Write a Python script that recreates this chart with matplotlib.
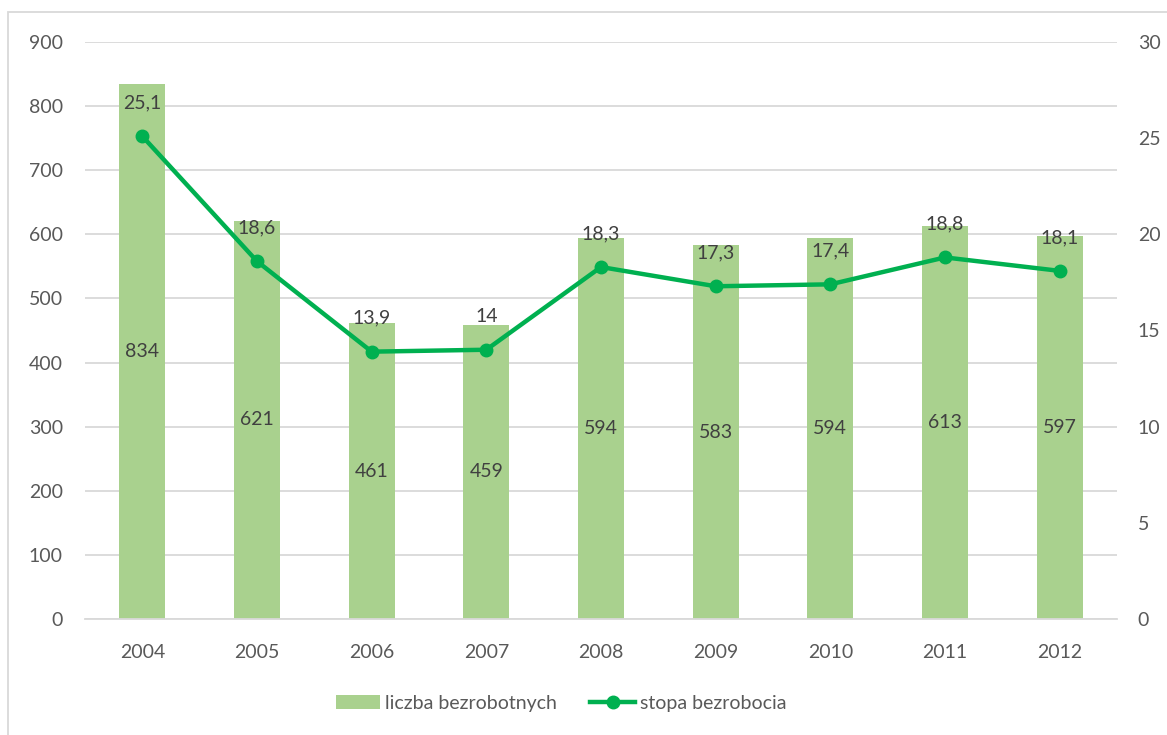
import matplotlib
matplotlib.use("Agg")
import matplotlib.pyplot as plt
from matplotlib.patches import Rectangle
from matplotlib.lines import Line2D
from matplotlib.patches import Patch

years = ["2004", "2005", "2006", "2007", "2008", "2009", "2010", "2011", "2012"]
unemployed = [834, 621, 461, 459, 594, 583, 594, 613, 597]
rate = [25.1, 18.6, 13.9, 14.0, 18.3, 17.3, 17.4, 18.8, 18.1]
rate_labels = ["25,1", "18,6", "13,9", "14", "18,3", "17,3", "17,4", "18,8", "18,1"]
left_ticks = [0, 100, 200, 300, 400, 500, 600, 700, 800, 900]
right_ticks = [0, 5, 10, 15, 20, 25, 30]

plt.rcParams['font.family'] = ['Lato', 'DejaVu Sans']

BAR = "#A9D18E"
LINE = "#00B050"
TXT = "#595959"
LBL = "#404040"
GRID = "#D9D9D9"
FS = 14

fig = plt.figure(figsize=(11.67, 7.35), dpi=100)
ax = fig.add_axes([85/1167, 1-619/735, (1117-85)/1167, (619-42)/735])
ax2 = ax.twinx()

x = list(range(len(years)))
ax.bar(x, unemployed, width=0.4, color=BAR, zorder=2)
ax.set_xlim(-0.5, len(years) - 0.5)
ax.set_ylim(0, 900)
ax.set_yticks(left_ticks)
ax.set_xticks(x)
ax.set_xticklabels(years)
ax.yaxis.grid(True, color=GRID, linewidth=1.3, zorder=0)
ax.set_axisbelow(True)
for s in ["top", "right", "left"]:
    ax.spines[s].set_visible(False)
ax.spines["bottom"].set_color(GRID)
ax.spines["bottom"].set_linewidth(1.3)
ax.tick_params(axis="both", length=0, labelsize=FS, labelcolor=TXT)
ax.tick_params(axis="y", pad=16)
ax.tick_params(axis="x", pad=18)

for xi, v in zip(x, unemployed):
    ax.text(xi, v / 2, str(v), ha="center", va="center", fontsize=FS, color=LBL, zorder=3)

ax2.plot(x, rate, color=LINE, linewidth=3.2, marker="o", markersize=9, zorder=4)
ax2.set_ylim(0, 30)
ax2.set_yticks(right_ticks)
for s in ["top", "right", "left", "bottom"]:
    ax2.spines[s].set_visible(False)
ax2.tick_params(axis="y", length=0, labelsize=FS, labelcolor=TXT, pad=15)
for xi, v, lab in zip(x, rate, rate_labels):
    ax2.annotate(lab, (xi, v), xytext=(0, 24), textcoords="offset points",
                 ha="center", va="center", fontsize=FS, color=LBL)

handles = [Patch(facecolor=BAR, edgecolor="none"),
           Line2D([0], [0], color=LINE, linewidth=3.2, marker="o", markersize=9)]
leg = fig.legend(handles, ["liczba bezrobotnych", "stopa bezrobocia"],
                 loc="center", bbox_to_anchor=(561/1167, 1-703/735), ncol=2, frameon=False,
                 fontsize=FS, handlelength=2.3, handletextpad=0.25, columnspacing=1.7)
for t in leg.get_texts():
    t.set_color(TXT)

fig.patches.append(Rectangle((8/1167, -0.1), 1.2, 1 - 12/735 + 0.1, transform=fig.transFigure,
                             fill=False, edgecolor=GRID, linewidth=1.3))

fig.savefig("out.png", dpi=100)
